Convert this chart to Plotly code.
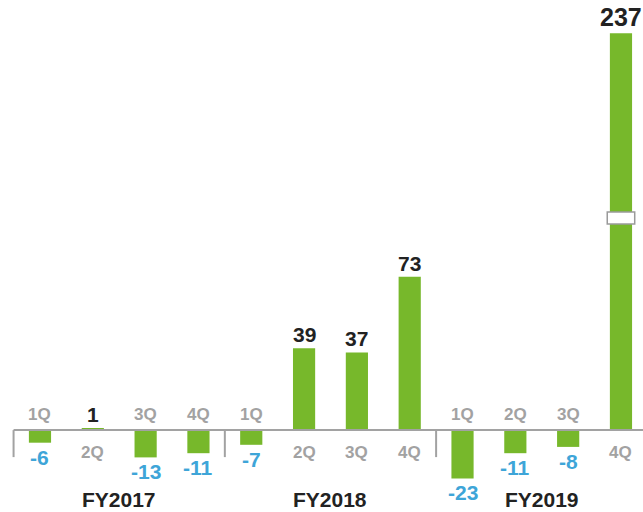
import plotly.graph_objects as go

# Quarterly results, FY2017-FY2019
years = ["FY2017", "FY2018", "FY2019"]
quarters = ["1Q", "2Q", "3Q", "4Q"]
values = [-6, 1, -13, -11, -7, 39, 37, 73, -23, -11, -8, 237]

categories = [f"{y} {q}" for y in years for q in quarters]
quarter_labels = quarters * len(years)

GREEN = "#77b82b"
BLUE = "#3ea5d8"
GRAY = "#a2a2a2"
DARK = "#222222"
FONT = "Liberation Sans, Arial, Helvetica, sans-serif"

W, H = 643, 512
PX_PER_UNIT = 2.1

# Broken value axis: lower panel up to LOW_MAX, upper panel from HIGH_MIN
LOW_MIN, LOW_MAX, HIGH_MIN = -39, 101, 149
low_px = (LOW_MAX - LOW_MIN) * PX_PER_UNIT
split = low_px / H
HIGH_MAX = HIGH_MIN + (H - low_px) / PX_PER_UNIT

X_MIN, X_MAX = -0.757, 11.417
BAR_W = 0.42

fig = go.Figure()
for axis in ("y", "y2"):
    fig.add_trace(go.Bar(
        x=categories, y=values, yaxis=axis, width=BAR_W,
        marker=dict(color=GREEN, line=dict(width=0)),
        hoverinfo="skip", showlegend=False,
    ))

annotations = []
for i, v in enumerate(values):
    broken = v > LOW_MAX
    pos = v >= 0
    annotations.append(dict(
        x=categories[i], y=v, xref="x", yref="y2" if broken else "y",
        text=f"<b>{v}</b>", showarrow=False,
        font=dict(family=FONT, size=25 if broken else 21,
                  color=DARK if pos else BLUE),
        yanchor="bottom" if pos else "top",
        yshift=0 if pos else -1,
    ))
    # quarter name sits on the opposite side of the baseline
    annotations.append(dict(
        x=categories[i], y=0, xref="x", yref="y",
        text=f"<b>{quarter_labels[i]}</b>", showarrow=False,
        font=dict(family=FONT, size=17, color=GRAY),
        yanchor="top" if pos else "bottom",
        yshift=-11 if pos else 4,
    ))

for g, year in enumerate(years):
    annotations.append(dict(
        x=g * len(quarters) + (len(quarters) - 1) / 2, y=0,
        xref="x", yref="paper", text=f"<b>{year}</b>", showarrow=False,
        font=dict(family=FONT, size=21, color=DARK), yanchor="bottom",
        borderpad=0,
    ))

shapes = [dict(type="line", xref="x", yref="y", x0=-0.5, x1=X_MAX, y0=0, y1=0,
               line=dict(color=GRAY, width=2))]
SEP_DEPTH = 27 / PX_PER_UNIT
for g in range(len(years)):
    xs = g * len(quarters) - 0.5
    shapes.append(dict(type="line", xref="x", yref="y", x0=xs, x1=xs,
                       y0=0, y1=-SEP_DEPTH, line=dict(color=GRAY, width=2)))

# break marker across the tall bar
tall = max(range(len(values)), key=lambda k: values[k])
shapes.append(dict(type="rect", xref="x", yref="paper",
                   x0=tall - 0.26, x1=tall + 0.26,
                   y0=split - 6 / H, y1=split + 6 / H,
                   fillcolor="white", line=dict(color="#9a9a9a", width=1.5),
                   layer="above"))

fig.update_layout(
    width=W, height=H, margin=dict(l=0, r=0, t=0, b=0),
    paper_bgcolor="white", plot_bgcolor="white",
    barmode="overlay",
    xaxis=dict(type="category", range=[X_MIN, X_MAX], visible=False,
               anchor="y", domain=[0, 1]),
    yaxis=dict(range=[LOW_MIN, LOW_MAX], domain=[0, split], visible=False),
    yaxis2=dict(range=[HIGH_MIN, HIGH_MAX], domain=[split, 1], visible=False,
                anchor="x"),
    annotations=annotations, shapes=shapes,
)

fig.write_html("out.html")
